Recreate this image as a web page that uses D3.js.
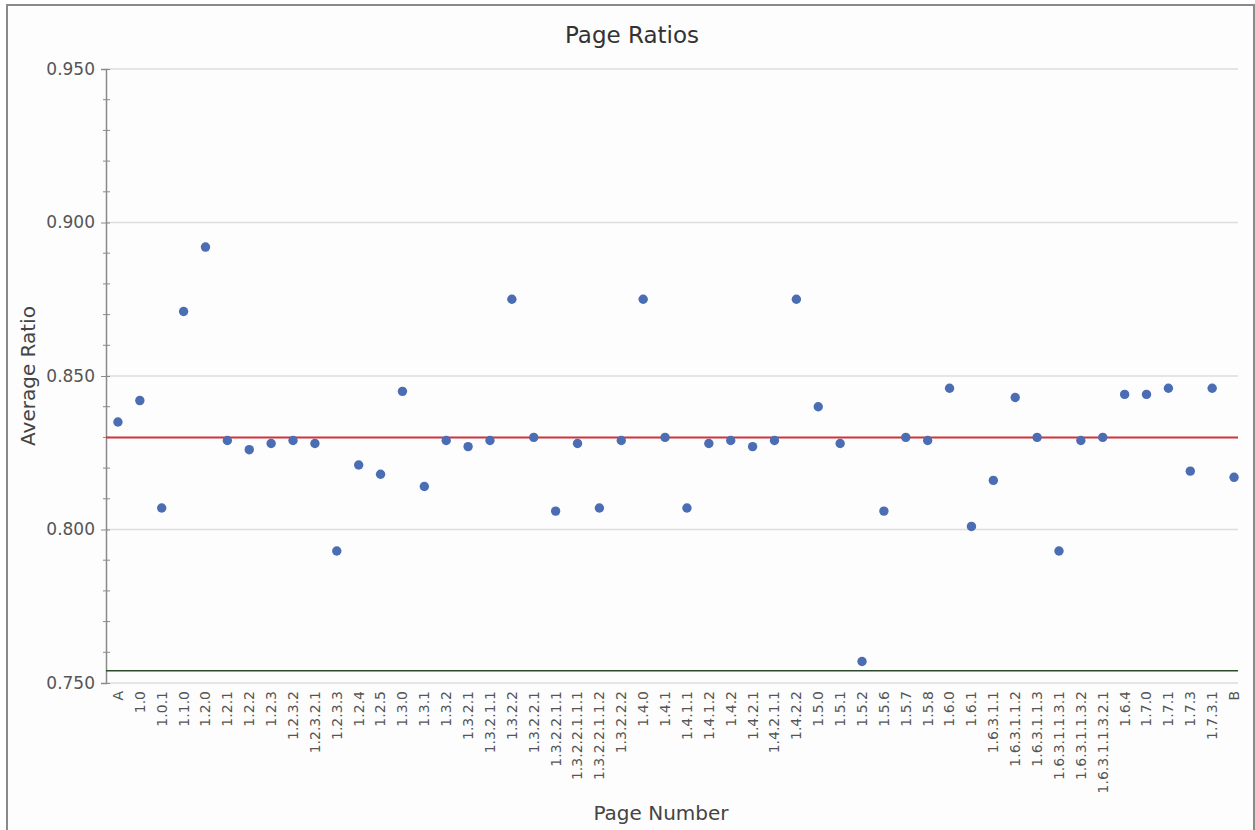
<!DOCTYPE html>
<html>
<head>
<meta charset="utf-8">
<script src="https://cdn.jsdelivr.net/npm/d3@7"></script>
<style>
  html, body { margin: 0; padding: 0; background: #fff; }
  text { font-family: "DejaVu Sans", sans-serif; }
</style>
</head>
<body>
<div id="chart"></div>
<script>
// Page labels along the x axis
const pages = ["A", "1.0", "1.0.1", "1.1.0", "1.2.0", "1.2.1", "1.2.2", "1.2.3", "1.2.3.2", "1.2.3.2.1",
    "1.2.3.3", "1.2.4", "1.2.5", "1.3.0", "1.3.1", "1.3.2", "1.3.2.1", "1.3.2.1.1", "1.3.2.2", "1.3.2.2.1",
    "1.3.2.2.1.1", "1.3.2.2.1.1.1", "1.3.2.2.1.1.2", "1.3.2.2.2", "1.4.0", "1.4.1", "1.4.1.1", "1.4.1.2",
    "1.4.2", "1.4.2.1", "1.4.2.1.1", "1.4.2.2", "1.5.0", "1.5.1", "1.5.2", "1.5.6", "1.5.7", "1.5.8",
    "1.6.0", "1.6.1", "1.6.3.1.1", "1.6.3.1.1.2", "1.6.3.1.1.3", "1.6.3.1.1.3.1", "1.6.3.1.1.3.2",
    "1.6.3.1.1.3.2.1", "1.6.4", "1.7.0", "1.7.1", "1.7.3", "1.7.3.1", "B"];

// Average ratio per page
const ratios = [0.835, 0.842, 0.807, 0.871, 0.892, 0.829, 0.826, 0.828, 0.829, 0.828,
    0.793, 0.821, 0.818, 0.845, 0.814, 0.829, 0.827, 0.829, 0.875, 0.830,
    0.806, 0.828, 0.807, 0.829, 0.875, 0.830, 0.807, 0.828,
    0.829, 0.827, 0.829, 0.875, 0.840, 0.828, 0.757, 0.806, 0.830, 0.829,
    0.846, 0.801, 0.816, 0.843, 0.830, 0.793, 0.829,
    0.830, 0.844, 0.844, 0.846, 0.819, 0.846, 0.817];

// Reference lines
const meanRatio = 0.830;
const lowerRatio = 0.754;

// Y axis ticks
const yMajorTicks = [0.750, 0.800, 0.850, 0.900, 0.950];
const yMinorTicks = d3.range(75, 96).map(d => d / 100);

const data = pages.map((p, i) => ({ page: p, ratio: ratios[i] }));

const W = 1255, H = 830;
const plot = { left: 106, right: 1238, top: 69, bottom: 683 };

const svg = d3.select("#chart")
    .append("svg")
    .attr("width", W)
    .attr("height", H);

// Outer frame
svg.append("rect")
    .attr("x", 7).attr("y", 5)
    .attr("width", 1247).attr("height", 840)
    .attr("fill", "#fdfdfd")
    .attr("stroke", "#8a8a8a")
    .attr("stroke-width", 2);

// categories run a little past the gridlines on the right
const x = d3.scaleBand()
    .domain(pages)
    .range([107, 1245]);

const y = d3.scaleLinear()
    .domain([0.750, 0.950])
    .range([plot.bottom, plot.top]);

// Gridlines
svg.append("g")
    .selectAll("line")
    .data(yMajorTicks)
    .enter().append("line")
    .attr("x1", plot.left)
    .attr("x2", plot.right)
    .attr("y1", d => y(d))
    .attr("y2", d => y(d))
    .attr("stroke", "#dddddd")
    .attr("stroke-width", 1.5);

// Y axis (major ticks with labels)
const yAxis = svg.append("g")
    .attr("transform", `translate(${plot.left},0)`)
    .call(d3.axisLeft(y).tickValues(yMajorTicks).tickFormat(d3.format(".3f")).tickSize(5).tickPadding(6));
yAxis.select(".domain").attr("stroke", "#8a8a8a").attr("stroke-width", 1.5);
yAxis.selectAll(".tick line").attr("stroke", "#8a8a8a").attr("x2", -5).attr("x1", 4);
yAxis.selectAll(".tick text")
    .attr("fill", "#555")
    .attr("font-size", "17px")
    .attr("font-family", "DejaVu Sans, sans-serif");

// Minor ticks
svg.append("g")
    .selectAll("line")
    .data(yMinorTicks.filter(d => !yMajorTicks.some(m => Math.abs(m - d) < 1e-9)))
    .enter().append("line")
    .attr("x1", plot.left - 3)
    .attr("x2", plot.left + 4)
    .attr("y1", d => y(d))
    .attr("y2", d => y(d))
    .attr("stroke", "#8a8a8a")
    .attr("stroke-width", 1);

// X axis labels (no tick marks)
const xAxis = svg.append("g")
    .attr("transform", `translate(0,${plot.bottom})`)
    .call(d3.axisBottom(x).tickSize(0).tickPadding(0));
xAxis.select(".domain").remove();
xAxis.selectAll(".tick text")
    .attr("fill", "#555")
    .attr("font-size", "14px")
    .attr("font-family", "DejaVu Sans, sans-serif")
    .attr("text-anchor", "end")
    .attr("dy", "0.35em")
    .attr("transform", "translate(0,8) rotate(-90)")
    .attr("x", 0)
    .attr("y", 0);

// Reference lines
svg.append("line")
    .attr("x1", plot.left).attr("x2", plot.right)
    .attr("y1", y(lowerRatio)).attr("y2", y(lowerRatio))
    .attr("stroke", "#2e4a2e")
    .attr("stroke-width", 1.5);

svg.append("line")
    .attr("x1", plot.left).attr("x2", plot.right)
    .attr("y1", y(meanRatio)).attr("y2", y(meanRatio))
    .attr("stroke", "#d0333a")
    .attr("stroke-width", 2);

// Points
svg.append("g")
    .selectAll("circle")
    .data(data)
    .enter().append("circle")
    .attr("cx", d => x(d.page) + x.bandwidth() / 2)
    .attr("cy", d => y(d.ratio))
    .attr("r", 4.7)
    .attr("fill", "#4a6db3");

// Title
svg.append("text")
    .attr("x", 632)
    .attr("y", 43)
    .attr("text-anchor", "middle")
    .attr("fill", "#333")
    .attr("font-size", "23px")
    .text("Page Ratios");

// Axis titles
svg.append("text")
    .attr("x", 661)
    .attr("y", 820)
    .attr("text-anchor", "middle")
    .attr("fill", "#444")
    .attr("font-size", "20px")
    .text("Page Number");

svg.append("text")
    .attr("transform", "rotate(-90)")
    .attr("x", -(plot.top + plot.bottom) / 2)
    .attr("y", 35)
    .attr("text-anchor", "middle")
    .attr("fill", "#444")
    .attr("font-size", "20px")
    .text("Average Ratio");
</script>
</body>
</html>
